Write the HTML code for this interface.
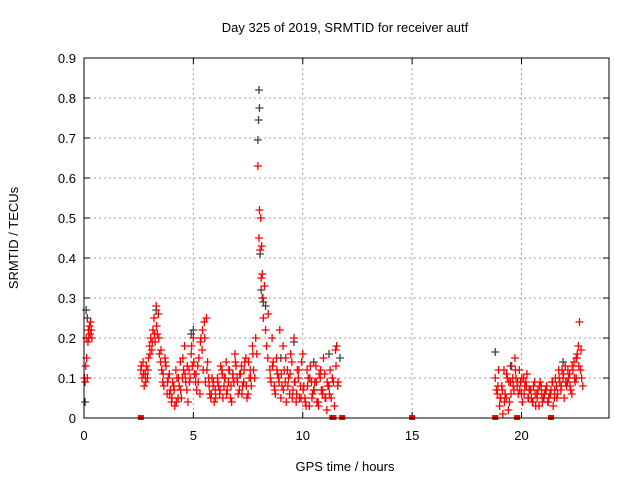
<!DOCTYPE html>
<html><head><meta charset="utf-8"><style>
body{margin:0;background:#fff;}
svg text{font-family:"Liberation Sans",sans-serif;font-size:13px;fill:#000;}
</style></head><body>
<svg id="chart" width="640" height="480" xmlns="http://www.w3.org/2000/svg">
<rect width="640" height="480" fill="#fff"/>
<text x="345" y="32" text-anchor="middle">Day 325 of 2019, SRMTID for receiver autf</text>
<text x="18" y="238" text-anchor="middle" transform="rotate(-90 18 238)">SRMTID / TECUs</text>
<text x="345" y="471" text-anchor="middle">GPS time / hours</text>
<g id="grid"></g>
<g id="ticks"></g>
<g id="black-series"></g>
<g id="red-series"></g>
<rect x="84" y="58" width="525" height="360" fill="none" stroke="#000" stroke-width="1"/>
</svg>
<script>
const xTicks=[0,5,10,15,20];
const yTicks=[0,0.1,0.2,0.3,0.4,0.5,0.6,0.7,0.8,0.9];
const yTickLabels=["0","0.1","0.2","0.3","0.4","0.5","0.6","0.7","0.8","0.9"];
const redT=[0.02,0.05,0.08,0.1,0.12,0.15,0.18,0.2,0.22,0.25,0.28,0.3,0.33,0.36,
2.6,2.65,2.7,2.75,2.8,2.85,2.9,2.95,3.0,3.05,3.1,3.15,3.2,3.25,3.3,3.35,3.4,3.45,3.5,
3.55,3.6,3.7,3.8,3.9,4.0,4.1,4.2,4.3,4.4,4.5,4.6,4.7,4.8,4.9,5.0,5.1,5.2,5.3,5.4,5.5,5.6,5.7,5.8,5.9,6.0,
3.65,3.75,3.85,3.95,4.05,4.15,4.25,4.35,4.45,4.55,4.65,4.75,4.85,4.95,5.05,5.15,5.25,5.35,5.45,5.55,5.65,5.75,5.85,5.95,
6.1,6.2,6.3,6.4,6.5,6.6,6.7,6.8,6.9,7.0,7.1,7.2,7.3,7.4,7.5,7.6,7.7,7.8,
6.15,6.25,6.35,6.45,6.55,6.65,6.75,6.85,6.95,7.05,7.15,7.25,7.35,7.45,7.55,7.65,7.75,
7.85,7.9,7.95,8.0,8.02,8.05,8.08,8.1,8.12,8.15,8.18,8.2,8.25,8.3,8.35,8.4,
8.5,8.6,8.7,8.8,8.9,9.0,9.1,9.2,9.3,9.4,9.5,9.6,9.7,9.8,9.9,10.0,10.1,10.2,10.3,10.4,10.5,10.6,10.7,10.8,10.9,11.0,11.1,11.2,11.3,11.4,11.5,11.6,
8.55,8.65,8.75,8.85,8.95,9.05,9.15,9.25,9.35,9.45,9.55,9.65,9.75,9.85,9.95,10.05,10.15,10.25,10.35,10.45,10.55,10.65,10.75,10.85,10.95,11.05,11.15,11.25,11.35,11.45,11.55,
18.8,18.9,19.0,19.1,19.2,19.3,19.4,19.5,19.6,19.7,19.8,19.9,20.0,20.1,20.2,20.3,20.4,20.5,20.6,20.7,20.8,20.9,21.0,21.1,21.2,21.3,21.4,21.5,21.6,21.7,21.8,21.9,22.0,22.1,22.2,22.3,22.4,22.5,22.6,22.7,22.8,
18.85,18.95,19.05,19.15,19.25,19.35,19.45,19.55,19.65,19.75,19.85,19.95,20.05,20.15,20.25,20.35,20.45,20.55,20.65,20.75,20.85,20.95,21.05,21.15,21.25,21.35,21.45,21.55,21.65,21.75,21.85,21.95,22.05,22.15,22.25,22.35,22.45,22.55,22.65,22.75,
2.62,2.72,2.82,2.92,3.02,3.12,3.22,3.32,3.42,3.52,3.62,3.72,3.82,3.92,4.02,4.12,4.22,4.32,4.42,4.52,4.62,4.72,4.82,4.92,5.02,5.12,5.22,5.32,5.42,5.52,5.62,5.72,5.82,5.92,
6.02,6.12,6.22,6.32,6.42,6.52,6.62,6.72,6.82,6.92,7.02,7.12,7.22,7.32,7.42,7.52,7.62,7.72,
8.42,8.52,8.62,8.72,8.82,8.92,9.02,9.12,9.22,9.32,9.42,9.52,9.62,9.72,9.82,9.92,10.02,10.12,10.22,10.32,10.42,10.52,10.62,10.72,10.82,10.92,11.02,11.12,11.22,11.52,11.62,
18.92,19.02,19.12,19.22,19.32,19.42,19.52,19.62,19.72,19.82,19.92,20.02,20.12,20.22,20.32,20.42,20.52,20.62,20.72,20.82,20.92,21.02,21.12,21.22,21.32,21.42,21.52,21.62,21.72,21.82,21.92,22.02,22.12,22.22,22.32,22.42,22.52,22.62,22.72];
const redV=[0.1,0.09,0.13,0.2,0.15,0.1,0.19,0.22,0.2,0.23,0.21,0.24,0.22,0.2,
0.12,0.1,0.14,0.08,0.11,0.13,0.1,0.15,0.18,0.2,0.17,0.22,0.25,0.19,0.28,0.21,0.26,0.16,0.14,
0.12,0.09,0.15,0.06,0.11,0.04,0.08,0.12,0.05,0.14,0.1,0.18,0.07,0.12,0.16,0.2,0.09,0.13,0.06,0.17,0.24,0.25,0.1,0.05,0.08,0.07,
0.08,0.13,0.1,0.07,0.09,0.03,0.1,0.08,0.05,0.12,0.09,0.04,0.1,0.13,0.11,0.07,0.15,0.2,0.12,0.09,0.14,0.06,0.1,0.04,
0.1,0.06,0.12,0.08,0.14,0.09,0.05,0.11,0.16,0.1,0.07,0.13,0.09,0.15,0.06,0.12,0.18,0.1,
0.08,0.13,0.05,0.1,0.07,0.12,0.04,0.09,0.13,0.06,0.11,0.08,0.14,0.05,0.1,0.08,0.12,
0.2,0.16,0.63,0.45,0.52,0.42,0.5,0.35,0.43,0.36,0.3,0.25,0.33,0.22,0.18,0.15,
0.12,0.2,0.08,0.15,0.1,0.05,0.18,0.09,0.12,0.06,0.14,0.2,0.04,0.1,0.08,0.16,0.05,0.12,0.03,0.09,0.07,0.13,0.04,0.1,0.06,0.11,0.02,0.08,0.05,0.09,0.17,0.08,
0.09,0.14,0.06,0.11,0.22,0.08,0.12,0.04,0.1,0.16,0.07,0.09,0.12,0.05,0.14,0.08,0.03,0.1,0.13,0.06,0.09,0.04,0.11,0.07,0.15,0.05,0.08,0.12,0.1,0.03,0.18,
0.1,0.06,0.03,0.08,0.12,0.05,0.02,0.09,0.1,0.15,0.08,0.12,0.06,0.1,0.09,0.05,0.07,0.04,0.09,0.06,0.03,0.08,0.05,0.07,0.04,0.06,0.09,0.05,0.08,0.12,0.07,0.1,0.13,0.09,0.11,0.06,0.14,0.1,0.18,0.12,0.08,
0.07,0.12,0.05,0.01,0.06,0.1,0.04,0.13,0.07,0.1,0.06,0.09,0.04,0.08,0.11,0.07,0.05,0.08,0.03,0.07,0.09,0.04,0.06,0.08,0.05,0.07,0.03,0.1,0.06,0.09,0.12,0.05,0.08,0.1,0.07,0.12,0.09,0.16,0.24,0.1,
0.13,0.11,0.09,0.12,0.16,0.19,0.21,0.23,0.2,0.17,0.11,0.14,0.09,0.06,0.05,0.07,0.04,0.1,0.07,0.15,0.11,0.13,0.09,0.18,0.14,0.11,0.09,0.19,0.22,0.2,0.12,0.08,0.06,0.09,
0.05,0.09,0.07,0.11,0.1,0.06,0.12,0.08,0.1,0.14,0.09,0.11,0.06,0.12,0.08,0.14,0.1,0.16,
0.26,0.1,0.13,0.07,0.12,0.09,0.11,0.07,0.15,0.08,0.11,0.05,0.09,0.06,0.12,0.05,0.07,0.04,0.08,0.1,0.05,0.07,0.09,0.03,0.12,0.07,0.05,0.09,0.06,0.13,0.09,
0.08,0.05,0.07,0.04,0.11,0.09,0.06,0.08,0.12,0.09,0.07,0.1,0.06,0.08,0.05,0.07,0.04,0.06,0.05,0.08,0.06,0.05,0.07,0.04,0.06,0.09,0.07,0.05,0.1,0.08,0.11,0.09,0.12,0.08,0.13,0.1,0.15,0.13,0.17];
const blackT=[0.05,0.1,0.15,3.3,4.9,5.0,7.95,7.98,8.0,8.02,8.05,8.1,8.15,8.2,8.3,9.0,9.6,10.5,11.2,11.7,18.8,19.5,21.9,22.5];
const blackV=[0.04,0.27,0.25,0.27,0.21,0.22,0.695,0.745,0.82,0.775,0.41,0.32,0.3,0.29,0.28,0.15,0.19,0.14,0.16,0.15,0.165,0.13,0.14,0.15];
const zeroT=[2.6,11.35,11.4,11.8,15.0,18.8,19.8,21.35];

const NS="http://www.w3.org/2000/svg";
const X0=84,X1=609,Y0=418,Y1=58;
function sx(t){return X0+(t/24)*(X1-X0);}
function sy(v){return Y0-(v/0.9)*(Y0-Y1);}
function mk(tag,attrs,parent){const e=document.createElementNS(NS,tag);for(const k in attrs)e.setAttribute(k,attrs[k]);parent.appendChild(e);return e;}
const grid=document.getElementById('grid'),ticks=document.getElementById('ticks');
yTicks.forEach((v,i)=>{const y=sy(v);
 if(i>0&&i<yTicks.length-1){const g=mk('line',{x1:X0,x2:X1,y1:y,y2:y,stroke:'#a0a0a0','stroke-dasharray':'2,3'},grid);
 
 }
 const t=mk('text',{x:X0-8,y:y+5,'text-anchor':'end'},ticks);t.textContent=yTickLabels[i];
 
 
 mk('line',{x1:X0,x2:X0+6,y1:y,y2:y,stroke:'#000'},ticks);mk('line',{x1:X1,x2:X1-6,y1:y,y2:y,stroke:'#000'},ticks);
});
xTicks.forEach(tv=>{const x=sx(tv);
 if(tv>0){const g=mk('line',{x1:x,x2:x,y1:Y1,y2:Y0,stroke:'#a0a0a0','stroke-dasharray':'2,3'},grid);
 
 }
 const t=mk('text',{x:x,y:Y0+22,'text-anchor':'middle'},ticks);t.textContent=String(tv);
 
 
 mk('line',{x1:x,x2:x,y1:Y0,y2:Y0-6,stroke:'#000'},ticks);mk('line',{x1:x,x2:x,y1:Y1,y2:Y1+6,stroke:'#000'},ticks);
});
function plus(g,t,v,c,name){const x=sx(t),y=sy(v);
 const p=mk('path',{d:`M${x-4} ${y}H${x+4}M${x} ${y-4}V${y+4}`,stroke:c,'stroke-width':1.3,fill:'none'},g);
 
 }
const bg=document.getElementById('black-series'),rg=document.getElementById('red-series');
blackT.forEach((t,i)=>plus(bg,t,blackV[i],'#404040','black-point'));
redT.forEach((t,i)=>plus(rg,t,redV[i],'#ff0000','red-point'));
zeroT.forEach(t=>{const r=mk('rect',{x:sx(t)-3,y:Y0-3,width:6,height:5,fill:'#ff0000'},rg);
 
 });
</script>
</body></html>
